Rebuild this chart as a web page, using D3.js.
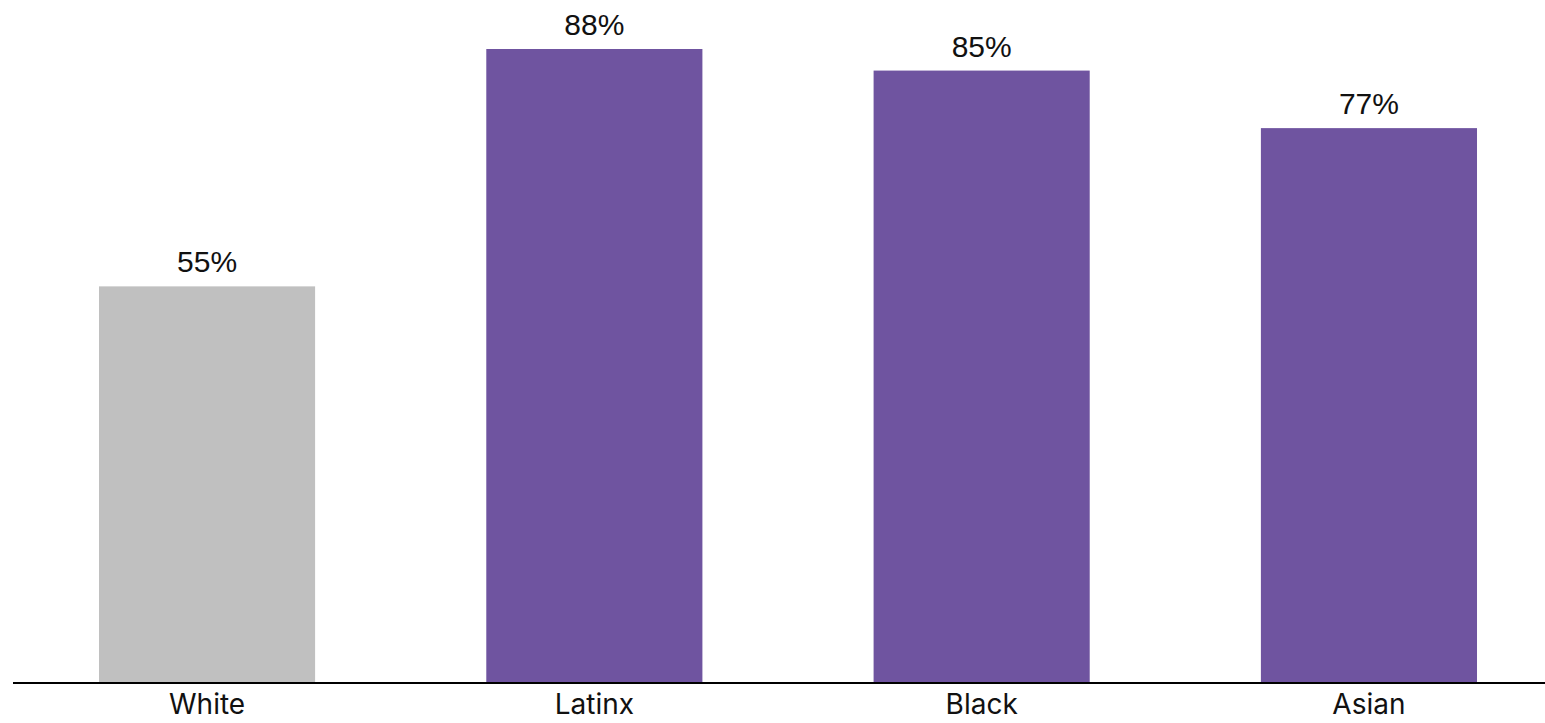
<!DOCTYPE html>
<html>
<head>
<meta charset="utf-8">
<script src="https://cdn.jsdelivr.net/npm/d3@7"></script>
<style>
  html, body { margin: 0; padding: 0; background: #fff; }
  svg { display: block; }
</style>
</head>
<body>
<svg id="chart" width="1545" height="723"></svg>
<script>
// Share by group, in percent
const categories = ["White", "Latinx", "Black", "Asian"];
const values = [55, 88, 85, 77];
const barColors = ["#c0c0c0", "#6f54a0", "#6f54a0", "#6f54a0"];

const svg = d3.select("#chart");
const width = 1545;
const baseline = 682;

const x = d3.scaleBand()
  .domain(categories)
  .range([13.4, 1562.6])
  .paddingInner(0.442)
  .paddingOuter(0.221);

const y = d3.scaleLinear()
  .domain([0, 88])
  .range([baseline, 49]);

const data = categories.map((c, i) => ({ cat: c, value: values[i], color: barColors[i] }));

svg.selectAll("rect.bar")
  .data(data)
  .join("rect")
  .attr("class", "bar")
  .attr("x", d => x(d.cat))
  .attr("width", x.bandwidth())
  .attr("y", d => y(d.value))
  .attr("height", d => baseline - y(d.value))
  .attr("fill", d => d.color);

svg.selectAll("text.value")
  .data(data)
  .join("text")
  .attr("class", "value")
  .attr("x", d => x(d.cat) + x.bandwidth() / 2)
  .attr("y", d => y(d.value) - 14)
  .attr("text-anchor", "middle")
  .style("font-family", "'Liberation Sans', Arial, sans-serif")
  .style("font-size", "30px")
  .attr("fill", "#111")
  .text(d => d.value + "%");

// Category axis
const axis = svg.append("g")
  .attr("transform", `translate(0,${baseline + 1})`)
  .call(d3.axisBottom(x).tickSize(0).tickPadding(11));
axis.select(".domain").remove();
axis.append("line")
  .attr("x1", 13).attr("x2", width)
  .attr("y1", 0).attr("y2", 0)
  .attr("stroke", "#000")
  .attr("stroke-width", 2);
axis.selectAll(".tick text")
  .style("font-family", "Inter, 'Open Sans', sans-serif")
  .style("font-size", "28px")
  .attr("fill", "#111")
  .attr("dy", "0.71em");
</script>
</body>
</html>
